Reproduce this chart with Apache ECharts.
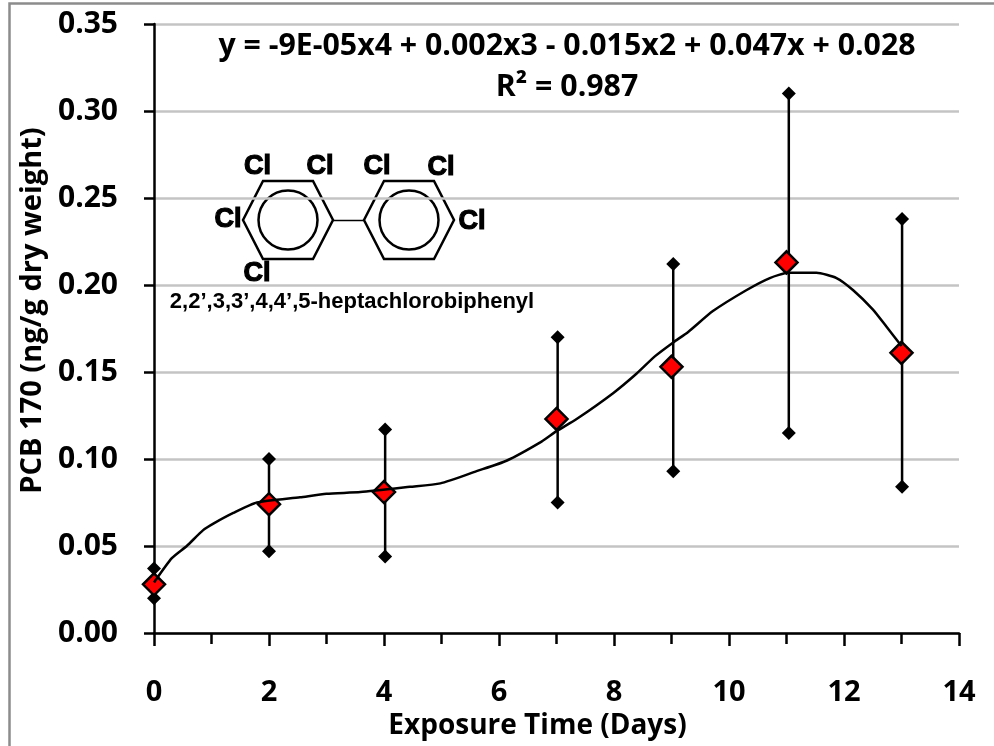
<!DOCTYPE html>
<html>
<head>
<meta charset="utf-8">
<script src="https://cdn.jsdelivr.net/npm/echarts@6/dist/echarts.min.js"></script>
<style>
html, body { margin: 0; padding: 0; background: #fff; }
#chart { width: 994px; height: 746px; }
</style>
</head>
<body>
<div id="chart"></div>
<script>
var days = [0, 2, 4, 7, 9, 11, 13];
var means = [0.028, 0.074, 0.081, 0.123, 0.153, 0.213, 0.161];
// the range bars sit a little to the right of the means in the picture
var rangeDays = [0, 2, 4.02, 7.02, 9.03, 11.04, 13.01];
var highs = [0.037, 0.100, 0.117, 0.170, 0.212, 0.310, 0.238];
var lows = [0.020, 0.047, 0.044, 0.075, 0.093, 0.115, 0.084];
// trendline
var curveX = [0, 0.31, 0.57, 0.85, 1.04, 1.38, 1.79, 2.54, 3, 3.59, 4.45, 4.98, 5.61, 6.13, 6.74, 7, 7.35, 7.99, 8.39, 8.71, 9.03, 9.29, 9.72, 10.3, 10.71, 11.03, 11.52, 11.87, 12.16, 12.5, 12.74, 13];
var curveY = [0.029, 0.043, 0.050, 0.059, 0.063, 0.069, 0.075, 0.078, 0.080, 0.081, 0.084, 0.086, 0.093, 0.099, 0.110, 0.116, 0.123, 0.138, 0.149, 0.159, 0.167, 0.173, 0.185, 0.197, 0.204, 0.207, 0.207, 0.204, 0.197, 0.186, 0.176, 0.165];

function pairs(xs, ys) {
    return xs.map(function (x, i) { return [x, ys[i]]; });
}

// benzene ring of the structure drawing, cx/cy is the centre
function ring(cx, cy) {
    var r = 45, dx = 25, h = 39;
    return [
        {
            type: 'polygon',
            shape: {points: [[cx - r, cy], [cx - dx, cy - h], [cx + dx, cy - h], [cx + r, cy], [cx + dx, cy + h], [cx - dx, cy + h]]},
            style: {fill: 'none', stroke: '#000', lineWidth: 2.5}
        },
        {
            type: 'circle',
            shape: {cx: cx, cy: cy, r: 29.5},
            style: {fill: 'none', stroke: '#000', lineWidth: 2.5}
        }
    ];
}

function cl(x, y) {
    return {
        type: 'text', x: x, y: y,
        style: {text: 'Cl', font: 'bold 27px "Liberation Sans"', fill: '#000', align: 'center', verticalAlign: 'middle', stroke: '#000', lineWidth: 1.2}
    };
}

function label(text, x, y, size) {
    return {
        type: 'text', x: x, y: y,
        style: {text: text, font: 'bold ' + size + 'px "Open Sans"', fill: '#000', align: 'center', verticalAlign: 'middle'}
    };
}

var chart = echarts.init(document.getElementById('chart'));
var option = {
    animation: false,
    backgroundColor: '#fff',
    grid: {left: 154, right: 35, top: 24, bottom: 113},
    xAxis: {
        type: 'value',
        min: 0,
        max: 14,
        interval: 2,
        splitLine: {show: false},
        axisLine: {onZero: false, lineStyle: {color: '#000', width: 2.5}},
        axisTick: {length: 13, lineStyle: {color: '#000', width: 2.5}},
        minorTick: {show: true, splitNumber: 2, length: 11, lineStyle: {color: '#000', width: 2.5}},
        axisLabel: {margin: 45, color: '#000', fontFamily: 'Open Sans', fontWeight: 'bold', fontSize: 29},
        name: 'Exposure Time (Days)',
        nameLocation: 'middle',
        nameGap: 78,
        nameTextStyle: {color: '#000', fontFamily: 'Open Sans', fontWeight: 'bold', fontSize: 28, padding: [0, 38, 0, 0]}
    },
    yAxis: {
        type: 'value',
        min: 0,
        max: 0.35,
        interval: 0.05,
        splitLine: {show: true, lineStyle: {color: '#c4c4c4', width: 2.5}},
        axisLine: {onZero: false, lineStyle: {color: '#000', width: 2.5}},
        axisTick: {length: 10, lineStyle: {color: '#000', width: 2.5}},
        axisLabel: {margin: 36, color: '#000', fontFamily: 'Open Sans', fontWeight: 'bold', fontSize: 30, formatter: function (v) { return v.toFixed(2); }},
        name: 'PCB 170 (ng/g dry weight)',
        nameLocation: 'middle',
        nameGap: 103,
        nameTextStyle: {color: '#000', fontFamily: 'Open Sans', fontWeight: 'bold', fontSize: 29, padding: [0, 0, 0, 36]}
    },
    graphic: {
        elements: [
            {type: 'rect', shape: {x: 9.5, y: 3.5, width: 1000, height: 800}, style: {fill: 'none', stroke: '#8c8c8c', lineWidth: 2.5}, z: 1},
            label('y = -9E-05x4 + 0.002x3 - 0.015x2 + 0.047x + 0.028', 567, 46, 30.3),
            label('R² = 0.987', 567, 87, 30.3),
            {type: 'line', shape: {x1: 333, y1: 220.5, x2: 364, y2: 220.5}, style: {stroke: '#000', lineWidth: 1.5}},
            cl(257.5, 167), cl(320, 167), cl(377, 167), cl(441, 168), cl(228, 220), cl(472, 222), cl(257, 274),
            {
                type: 'text', x: 352, y: 302,
                style: {text: '2,2’,3,3’,4,4’,5-heptachlorobiphenyl', font: 'bold 22px "Liberation Sans"', fill: '#000', align: 'center', verticalAlign: 'middle'}
            }
        ].concat(ring(288, 220)).concat(ring(409, 220))
    },
    series: [
        {
            name: 'range',
            type: 'custom',
            data: rangeDays.map(function (d, i) { return [d, lows[i], highs[i]]; }),
            encode: {x: 0, y: [1, 2]},
            renderItem: function (params, api) {
                var a = api.coord([api.value(0), api.value(1)]);
                var b = api.coord([api.value(0), api.value(2)]);
                return {
                    type: 'line',
                    shape: {x1: a[0], y1: a[1], x2: b[0], y2: b[1]},
                    style: {stroke: '#000', lineWidth: 2.5}
                };
            },
            z: 3
        },
        {name: 'high', type: 'scatter', symbol: 'diamond', symbolSize: 14, data: pairs(rangeDays, highs), itemStyle: {color: '#000', opacity: 1}, z: 4},
        {name: 'low', type: 'scatter', symbol: 'diamond', symbolSize: 14, data: pairs(rangeDays, lows), itemStyle: {color: '#000', opacity: 1}, z: 4},
        {name: 'mean', type: 'scatter', symbol: 'diamond', symbolSize: 22, data: pairs(days, means), itemStyle: {color: '#ff0000', borderColor: '#000', borderWidth: 2.5, opacity: 1}, z: 5},
        {name: 'trend', type: 'line', smooth: 0.2, showSymbol: false, data: pairs(curveX, curveY), lineStyle: {color: '#000', width: 2.5}, z: 6}
    ]
};
chart.setOption(option);
</script>
</body>
</html>
